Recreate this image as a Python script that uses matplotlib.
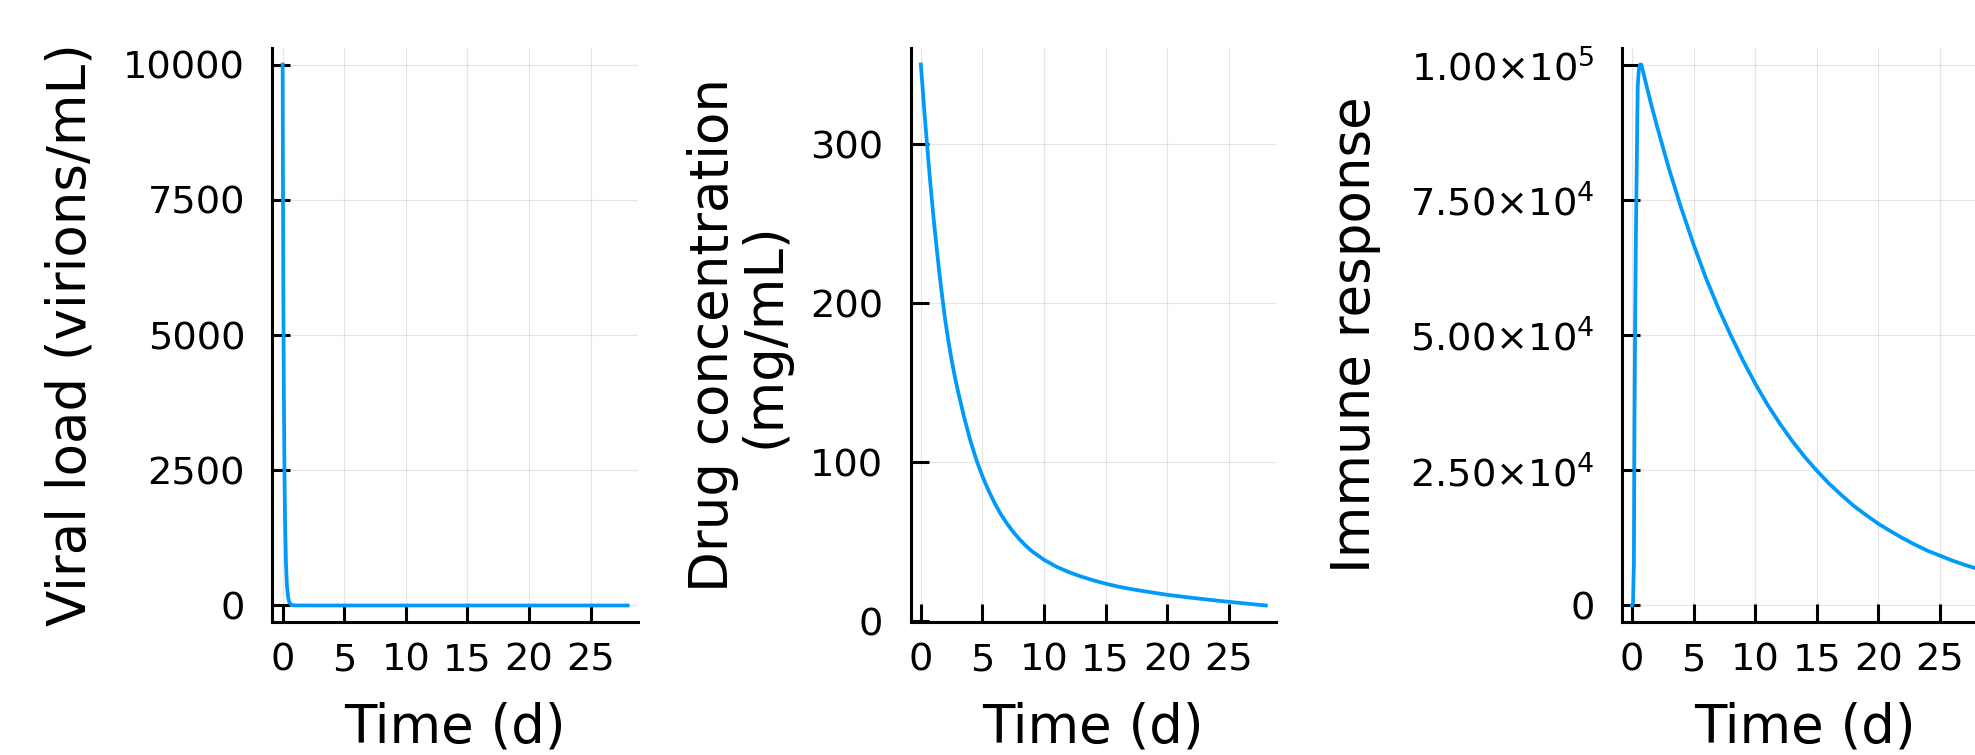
import matplotlib
matplotlib.use("Agg")
import matplotlib.pyplot as plt
from matplotlib.ticker import FixedLocator, FixedFormatter

plt.rcParams['font.family'] = ['DejaVu Sans']
plt.rcParams['mathtext.fontset'] = 'dejavusans'

# ---------------- data ----------------
time_viral = [0, 0.03, 0.06, 0.1, 0.15, 0.2, 0.27, 0.35, 0.45, 0.55, 0.7, 0.9, 1.2,
              2, 5, 10, 15, 20, 25, 28]
viral_load = [10000, 7500, 5650, 3870, 2410, 1500, 780, 360, 140, 55, 13, 2, 0.3,
              0, 0, 0, 0, 0, 0, 0]

time_drug = [0, 0.25, 0.5, 0.75, 1, 1.25, 1.5, 1.75, 2, 2.25, 2.5, 2.75, 3, 3.5, 4,
             4.5, 5, 5.5, 6, 6.5, 7, 7.5, 8, 8.5, 9, 10, 11, 12, 13, 14, 15, 16, 17,
             18, 20, 22, 24, 26, 28]
drug_conc = [350, 324, 300, 277, 256, 237, 219, 203, 188, 175.5, 164, 154, 145, 128.5,
             114, 101.5, 91, 82, 74, 67, 61.2, 56, 51.5, 47.5, 44, 38.5, 34.2, 30.8,
             28, 25.6, 23.5, 21.7, 20.2, 18.9, 16.5, 14.6, 12.9, 11.3, 9.8]

time_immune = [0, 0.08, 0.15, 0.2, 0.25, 0.32, 0.4, 0.46, 0.55, 0.65, 0.75, 1, 1.5, 2,
               3, 4, 5, 6, 7, 8, 9, 10, 11, 12, 13, 14, 15, 16, 17, 18, 19, 20, 21, 22,
               23, 24, 25, 26, 27, 28]
immune_resp = [0, 500, 8000, 35000, 52000, 70000, 85000, 96000, 99000, 100000, 100000,
               97700, 93100, 88800, 80700, 73400, 66700, 60500, 55000, 50000, 45300,
               41000, 37100, 33600, 30400, 27500, 24900, 22500, 20400, 18400, 16700,
               15100, 13700, 12400, 11200, 10100, 9200, 8300, 7500, 6800]

x_ticks = [0, 5, 10, 15, 20, 25]
x_tick_labels = ['0', '5', '10', '15', '20', '25']
viral_ticks = [0, 2500, 5000, 7500, 10000]
viral_tick_labels = ['0', '2500', '5000', '7500', '10000']
drug_ticks = [0, 100, 200, 300]
drug_tick_labels = ['0', '100', '200', '300']
immune_ticks = [0, 25000, 50000, 75000, 100000]
immune_tick_labels = ['0', r'$2.50{\times}10^{4}$', r'$5.00{\times}10^{4}$',
                      r'$7.50{\times}10^{4}$', r'$1.00{\times}10^{5}$']

x_label = 'Time (d)'
y_labels = ['Viral load (virions/mL)', 'Drug concentration\n(mg/mL)', 'Immune response']

# ---------------- style ----------------
W, H = 1975, 755
LINE_COLOR = '#009AFA'
TICK_FS = 27.6
LABEL_FS = 38.2

fig = plt.figure(figsize=(W / 100, H / 100), dpi=100)
fig.patch.set_facecolor('white')

ax_lefts = [272.3, 910.5, 1621.7]   # pixel positions of the y spines
ax_w = 365.7
ax_top, ax_bot = 48.3, 621.7
ylabel_x = [-0.512, -0.469, -0.689]
ylabel_va = ['baseline', 'center', 'baseline']

series = [(time_viral, viral_load, viral_ticks, viral_tick_labels),
          (time_drug, drug_conc, drug_ticks, drug_tick_labels),
          (time_immune, immune_resp, immune_ticks, immune_tick_labels)]


def padded(lo, hi, frac=0.03):
    r = hi - lo
    return lo - frac * r, hi + frac * r


for i, (t, y, yt, ytl) in enumerate(series):
    ax = fig.add_axes([ax_lefts[i] / W, 1 - ax_bot / H, ax_w / W, (ax_bot - ax_top) / H])
    ax.plot(t, y, color=LINE_COLOR, lw=2.7, solid_joinstyle='round', zorder=3)
    ax.set_xlim(*padded(0, 28))
    ax.set_ylim(*padded(min(y), max(y)))

    ax.xaxis.set_major_locator(FixedLocator(x_ticks))
    ax.xaxis.set_major_formatter(FixedFormatter(x_tick_labels))
    ax.yaxis.set_major_locator(FixedLocator(yt))
    ax.yaxis.set_major_formatter(FixedFormatter(ytl))

    for s in ['top', 'right']:
        ax.spines[s].set_visible(False)
    for s in ['left', 'bottom']:
        ax.spines[s].set_linewidth(2.2)
        ax.spines[s].set_color('black')

    ax.tick_params(axis='both', direction='in', length=12.7, width=2.2,
                   labelsize=TICK_FS, colors='black')
    ax.tick_params(axis='x', pad=14.7)
    ax.tick_params(axis='y', pad=19.6)
    if i == 2:
        plt.setp(ax.get_yticklabels(), va='center_baseline')

    ax.grid(True, color='black', alpha=0.1, linewidth=0.9)
    ax.set_axisbelow(True)

    ax.set_xlabel(x_label, fontsize=LABEL_FS)
    ax.xaxis.set_label_coords(0.5, -0.2108)
    ax.xaxis.label.set_va('baseline')

    ax.set_ylabel(y_labels[i], fontsize=LABEL_FS, linespacing=1.0)
    ax.yaxis.set_label_coords(ylabel_x[i], 0.5)
    ax.yaxis.label.set_va(ylabel_va[i])

fig.savefig('out.png', dpi=100, facecolor='white')
